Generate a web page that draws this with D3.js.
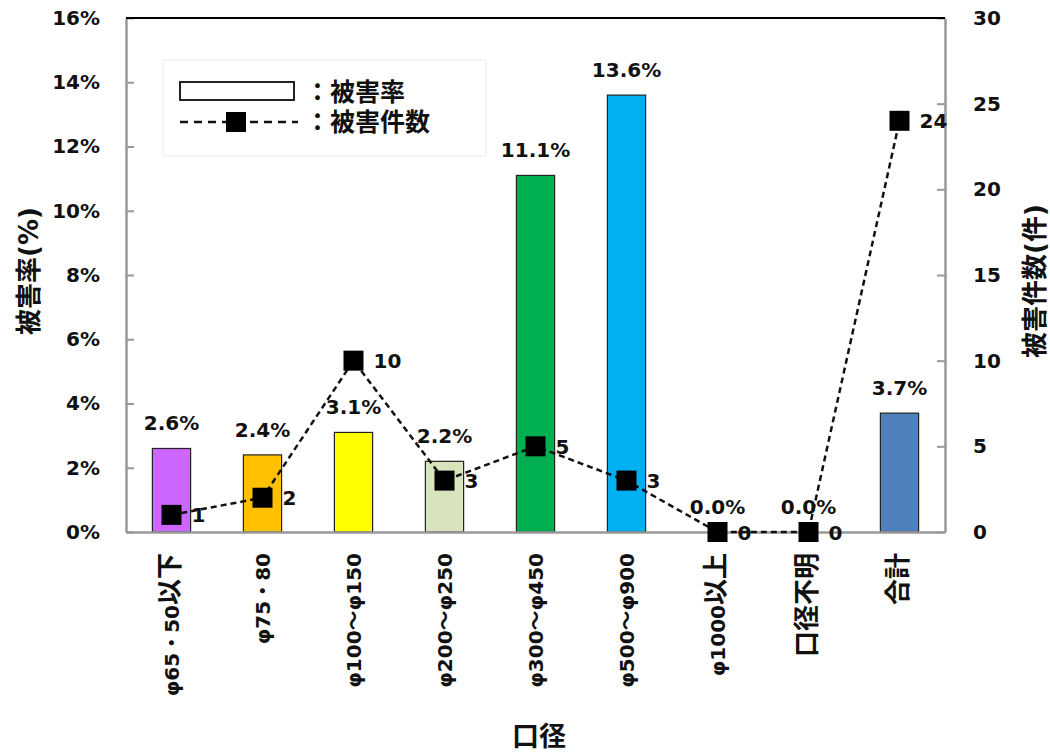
<!DOCTYPE html>
<html><head><meta charset="utf-8">
<script src="https://cdn.jsdelivr.net/npm/d3@7/dist/d3.min.js"></script>
<style>
body{margin:0;background:#fff;}
text{font-family:"DejaVu Sans","Noto Sans CJK JP",sans-serif;font-weight:bold;fill:#111;}
</style></head>
<body><svg id="c" width="1050" height="753"></svg>
<script>
const categories = ["φ65・50以下","φ75・80","φ100～φ150","φ200～φ250","φ300～φ450","φ500～φ900","φ1000以上","口径不明","合計"];
const rates = [0.026,0.024,0.031,0.022,0.111,0.136,0.000,0.000,0.037];
const counts = [1,2,10,3,5,3,0,0,24];
const barColors = ["#CC66FF","#FFC000","#FFFF00","#D8E4BC","#00B050","#00B0F0","#FFFFFF","#FFFFFF","#4F81BD"];
const leftTicks = [0,0.02,0.04,0.06,0.08,0.10,0.12,0.14,0.16];
const rightTicks = [0,5,10,15,20,25,30];

const svg = d3.select("#c");
const L=126,R=945,T=18,B=532;
const x = d3.scaleBand().domain(categories).range([L,R]);
const yL = d3.scaleLinear().domain([0,0.16]).range([B,T]);
const yR = d3.scaleLinear().domain([0,30]).range([B,T]);
const bw = x.bandwidth()*0.42;
const cx = d => x(d)+x.bandwidth()/2;
const fmtPct = d3.format(".1%");

// bars
svg.append("g").selectAll("rect").data(categories).join("rect")
  .attr("x",(d)=>cx(d)-bw/2).attr("width",bw)
  .attr("y",(d,i)=>yL(rates[i])).attr("height",(d,i)=>B-yL(rates[i]))
  .attr("fill",(d,i)=>barColors[i]).attr("stroke","#222").attr("stroke-width",1.2);

// axes
const gl = svg.append("g").attr("transform",`translate(${L},0)`)
  .call(d3.axisLeft(yL).tickValues(leftTicks).tickFormat(d3.format(".0%")).tickSizeInner(-8).tickSizeOuter(0).tickPadding(26));
const gr = svg.append("g").attr("transform",`translate(${R},0)`)
  .call(d3.axisRight(yR).tickValues(rightTicks).tickSizeInner(-8).tickSizeOuter(0).tickPadding(28));
[gl,gr].forEach(g=>{
  g.select(".domain").attr("stroke","#999").attr("stroke-width",2.5);
  g.selectAll(".tick line").attr("stroke","#999").attr("stroke-width",2);
  g.selectAll(".tick text").style("font-size","20px").attr("fill","#111");
});
const gb = svg.append("g").attr("transform",`translate(0,${B})`)
  .call(d3.axisBottom(x).tickSize(0).tickPadding(0));
gb.select(".domain").attr("stroke","#999").attr("stroke-width",2.5);
gb.selectAll(".tick text").style("font-size","20px").attr("fill","#111")
  .attr("transform","rotate(-90)").attr("text-anchor","end")
  .attr("x",-21).attr("y",0).attr("dy","0.36em")
  .each(function(d){
    const t = d3.select(this); t.text(null);
    const runs = d.match(/[\u4e00-\u9fff]+|[^\u4e00-\u9fff]+/g);
    runs.forEach(r=>{
      const sp = t.append("tspan").text(r);
      if(/[\u4e00-\u9fff]/.test(r)) sp.style("font-size","26px");
    });
  });
// top border
svg.append("line").attr("x1",L).attr("x2",R).attr("y1",T).attr("y2",T).attr("stroke","#000").attr("stroke-width",2);

// bar labels
svg.append("g").selectAll("text").data(categories).join("text")
  .attr("x",d=>cx(d)).attr("y",(d,i)=>yL(rates[i])-18)
  .attr("text-anchor","middle").style("font-size","20px")
  .text((d,i)=>fmtPct(rates[i]));

// line
const line = d3.line().x((d,i)=>cx(categories[i])).y(d=>yR(d));
svg.append("path").datum(counts).attr("d",line).attr("fill","none")
  .attr("stroke","#111").attr("stroke-width",2.5).attr("stroke-dasharray","6,4");
svg.append("g").selectAll("rect").data(counts).join("rect")
  .attr("x",(d,i)=>cx(categories[i])-10).attr("y",d=>yR(d)-10)
  .attr("width",20).attr("height",20).attr("fill","#000");
svg.append("g").selectAll("text").data(counts).join("text")
  .attr("x",(d,i)=>cx(categories[i])+20).attr("y",d=>yR(d)).attr("dy","0.38em")
  .style("font-size","20px").text(d=>d);

// axis titles
svg.append("text").attr("transform","translate(38,271) rotate(-90)").attr("text-anchor","middle")
  .style("font-size","26px").text("被害率(%)");
svg.append("text").attr("transform","translate(1044,281) rotate(-90)").attr("text-anchor","middle")
  .style("font-size","26px").text("被害件数(件)");
svg.append("text").attr("x",539).attr("y",746).attr("text-anchor","middle")
  .style("font-size","27px").text("口径");

// legend
const lg = svg.append("g");
lg.append("rect").attr("x",163).attr("y",60).attr("width",323).attr("height",96)
  .attr("fill","#fff").attr("stroke","#ececec").attr("stroke-width",1);
lg.append("rect").attr("x",180).attr("y",82).attr("width",114).attr("height",18)
  .attr("fill","#fff").attr("stroke","#222").attr("stroke-width",2);
lg.append("text").attr("x",305).attr("y",92).attr("dy","0.36em").style("font-size","25px").text("：被害率");
lg.append("line").attr("x1",180).attr("x2",298).attr("y1",122).attr("y2",122)
  .attr("stroke","#111").attr("stroke-width",2.5).attr("stroke-dasharray","8,6");
lg.append("rect").attr("x",226).attr("y",112).attr("width",20).attr("height",20).attr("fill","#000");
lg.append("text").attr("x",305).attr("y",122).attr("dy","0.36em").style("font-size","25px").text("：被害件数");
</script></body></html>
